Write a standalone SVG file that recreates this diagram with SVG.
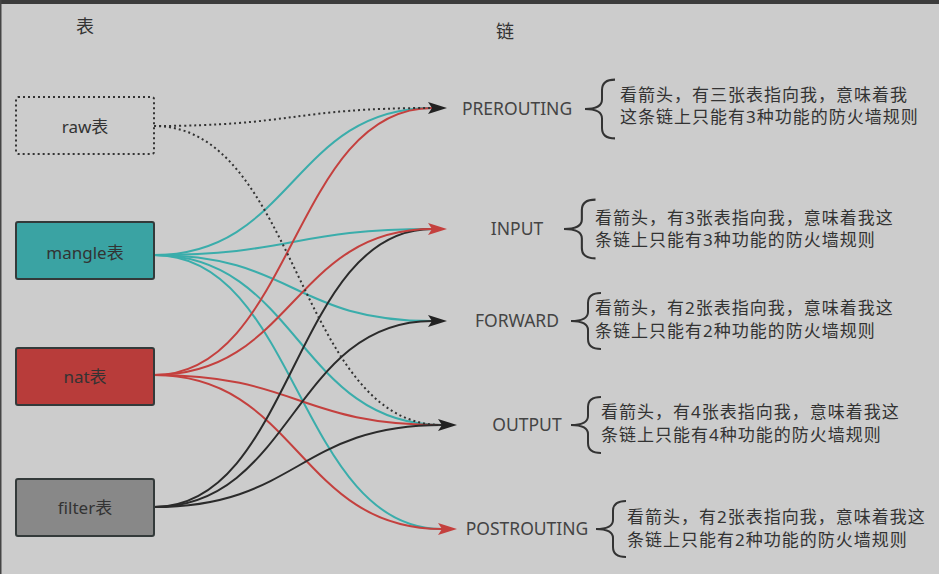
<svg xmlns="http://www.w3.org/2000/svg" width="939" height="574" viewBox="0 0 939 574">
<defs>
<style>
.box{stroke:#333a3a;stroke-width:2}
.lbl{font-family:"Noto Sans","Noto Sans CJK SC",sans-serif;font-size:17px;fill:#333;text-anchor:middle}
.chain{font-family:"Noto Sans","Noto Sans CJK SC",sans-serif;font-size:17.5px;fill:#444;text-anchor:middle}
.note{font-family:"Noto Sans","Noto Sans CJK SC",sans-serif;font-size:17px;letter-spacing:1px;fill:#333}
.title{font-family:"Noto Sans CJK SC",sans-serif;font-size:18px;fill:#333;text-anchor:middle}
.e{fill:none;stroke-width:2}
.t{stroke:#3aadab}
.r{stroke:#c4403e}
.k{stroke:#2b2b2b}
.d{stroke:#333;stroke-dasharray:2 3}
.brace{fill:none;stroke:#333;stroke-width:2}
</style>
<marker id="ak" markerUnits="userSpaceOnUse" markerWidth="20" markerHeight="14" refX="4" refY="6" orient="auto" viewBox="0 0 20 12">
<path d="M0,0 L19,6 L0,12 L4,6 Z" fill="#222" stroke="none"/>
</marker>
<marker id="ar" markerUnits="userSpaceOnUse" markerWidth="20" markerHeight="14" refX="4" refY="6" orient="auto" viewBox="0 0 20 12">
<path d="M0,0 L19,6 L0,12 L4,6 Z" fill="#c4403e" stroke="none"/>
</marker>
<path id="brace" d="M30,-28 Q17,-28 17,-18 L17,-9 Q17,0 0,0 Q17,0 17,9 L17,18 Q17,28 30,28"/>
</defs>
<rect x="0" y="0" width="939" height="574" fill="#cccccc"/>
<rect x="0" y="0" width="939" height="4" fill="#3c3c3c"/>
<rect x="0" y="0" width="1.5" height="574" fill="#444"/>

<text class="title" x="85" y="33">表</text>
<text class="title" x="505" y="38">链</text>

<g id="connectors">
<path class="e t" d="M154,255 C293,255 293,108 432,108"/>
<path class="e t" d="M154,255 C293,255 293,229 432,229"/>
<path class="e t" d="M154,255 C293,255 293,321 432,321"/>
<path class="e t" d="M154,255 C298,255 298,425 442,425"/>
<path class="e t" d="M154,255 C298,255 298,529 442,529"/>
<path class="e r" d="M154,375 C293,375 293,108 432,108"/>
<path class="e r" d="M154,375 C298,375 298,425 442,425"/>
<path class="e r" d="M154,375 C298,375 298,529 442,529" marker-end="url(#ar)"/>
<path class="e k" d="M154,507 C293,507 293,229 432,229"/>
<path class="e k" d="M154,507 C293,507 293,321 432,321" marker-end="url(#ak)"/>
<path class="e k" d="M154,507 C298,507 298,425 442,425" marker-end="url(#ak)"/>
<path class="e r" d="M154,375 C293,375 293,229 432,229" marker-end="url(#ar)"/>
<path class="e d" d="M154,126 C293,126 293,108 432,108" marker-end="url(#ak)"/>
<path class="e d" d="M154,126 C298,126 298,425 442,425"/>
</g>

<g id="raw">
<rect x="16" y="97" width="138" height="57" rx="2" fill="none" stroke="#333" stroke-width="2" stroke-dasharray="2 3"/>
<text class="lbl" x="85" y="133">raw表</text>
</g>
<g id="mangle">
<rect class="box" x="16" y="222" width="138" height="57" rx="2" fill="#3aa3a3"/>
<text class="lbl" x="85" y="259">mangle表</text>
</g>
<g id="nat">
<rect class="box" x="16" y="348" width="138" height="57" rx="2" fill="#b83c3a"/>
<text class="lbl" x="85" y="383">nat表</text>
</g>
<g id="filter">
<rect class="box" x="16" y="479" width="138" height="57" rx="2" fill="#888888"/>
<text class="lbl" x="85" y="514">filter表</text>
</g>

<g id="prerouting">
<text class="chain" x="517" y="115">PREROUTING</text>
<use href="#brace" class="brace" transform="translate(585,109) scale(1,1.05)"/>
<text class="note" x="620" y="101">看箭头，有三张表指向我，意味着我</text>
<text class="note" x="620" y="123">这条链上只能有3种功能的防火墙规则</text>
</g>
<g id="input">
<text class="chain" x="517" y="235">INPUT</text>
<use href="#brace" class="brace" transform="translate(564,229) scale(1.05,1.05)"/>
<text class="note" x="595" y="224">看箭头，有3张表指向我，意味着我这</text>
<text class="note" x="595" y="246">条链上只能有3种功能的防火墙规则</text>
</g>
<g id="forward">
<text class="chain" x="517" y="327">FORWARD</text>
<use href="#brace" class="brace" transform="translate(571,321)"/>
<text class="note" x="595" y="314">看箭头，有2张表指向我，意味着我这</text>
<text class="note" x="595" y="337">条链上只能有2种功能的防火墙规则</text>
</g>
<g id="output">
<text class="chain" x="527" y="431">OUTPUT</text>
<use href="#brace" class="brace" transform="translate(571,425)"/>
<text class="note" x="601" y="418">看箭头，有4张表指向我，意味着我这</text>
<text class="note" x="601" y="441">条链上只能有4种功能的防火墙规则</text>
</g>
<g id="postrouting">
<text class="chain" x="527" y="535">POSTROUTING</text>
<use href="#brace" class="brace" transform="translate(596,529)"/>
<text class="note" x="627" y="523">看箭头，有2张表指向我，意味着我这</text>
<text class="note" x="627" y="546">条链上只能有2种功能的防火墙规则</text>
</g>
</svg>
